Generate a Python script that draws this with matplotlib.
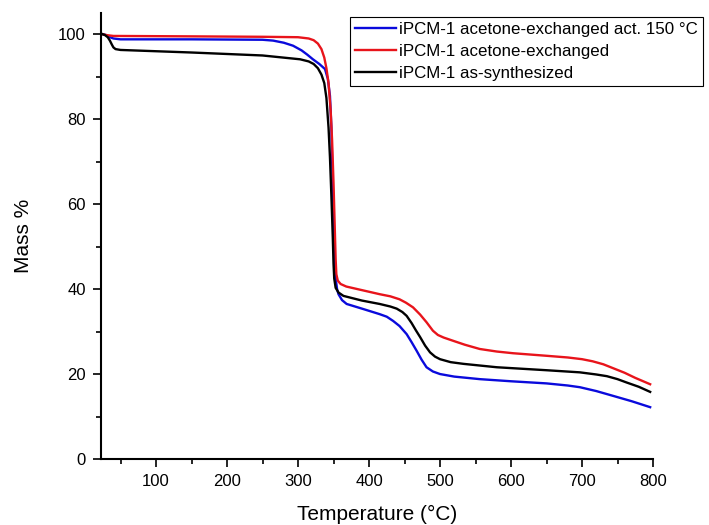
import matplotlib
matplotlib.use('Agg')
import matplotlib.pyplot as plt
from matplotlib.ticker import MultipleLocator

plt.rcParams['font.family'] = ['Liberation Sans', 'DejaVu Sans']

# TGA curves: temperature (degC) and mass %
temp_act150 = [25, 30, 35, 40, 50, 150, 250, 265, 280, 293, 305, 313, 321, 330,
               338, 342, 345, 347, 348, 350, 351.5, 353, 355, 357, 362, 368.5,
               392, 415, 425, 434, 443, 453, 460, 467, 474, 481, 490, 500, 520,
               556, 600, 650, 680, 697, 720, 743, 770, 796]
mass_act150 = [100, 99.8, 99.3, 99.0, 98.8, 98.8, 98.7, 98.5, 98.0, 97.3, 96.2,
               95.2, 94.1, 93.0, 91.8, 89.5, 85.5, 78, 70.6, 58, 48, 42.5, 40.0,
               38.8, 37.4, 36.5, 35.3, 34.1, 33.5, 32.5, 31.3, 29.4, 27.5, 25.5,
               23.4, 21.6, 20.6, 20.0, 19.4, 18.8, 18.3, 17.8, 17.3, 16.9, 16.0,
               14.9, 13.6, 12.2]

temp_acetone = [25, 30, 40, 150, 250, 300, 315, 322, 328, 333, 337, 340, 343,
                346, 348, 350, 352, 353, 354, 356, 360, 368, 415, 430, 443, 452,
                462, 472, 481, 490, 497, 505, 519, 535, 556, 580, 603, 650, 680,
                700, 715, 730, 745, 760, 775, 796]
mass_acetone = [100, 99.8, 99.6, 99.5, 99.4, 99.3, 99.0, 98.6, 97.8, 96.5, 94.5,
                92.0, 88.5, 82, 75, 65, 53, 47, 43.5, 42.0, 41.2, 40.6, 38.8,
                38.3, 37.6, 36.8, 35.7, 34.0, 32.2, 30.2, 29.2, 28.6, 27.8, 26.9,
                25.9, 25.3, 24.9, 24.3, 23.9, 23.5, 23.0, 22.3, 21.3, 20.3, 19.1,
                17.6]

temp_synth = [25, 28, 32, 35, 38, 40, 43, 50, 150, 250, 303, 315, 322, 328,
              333, 337, 340, 343, 345, 347, 349, 350, 351, 353, 357, 364, 390,
              415, 430, 439, 447, 453, 460, 466, 472, 479, 486, 493, 500, 515,
              533, 580, 650, 697, 720, 735, 750, 763, 780, 796]
mass_synth = [100, 99.8, 99.3, 98.5, 97.5, 96.9, 96.5, 96.3, 95.7, 95.0, 94.1,
              93.6, 93.0, 92.0, 90.5, 88.5, 85, 78, 71, 62, 52, 46, 42.5, 40.3,
              39.2, 38.4, 37.3, 36.5, 35.9, 35.4, 34.6, 33.7, 32.0, 30.3, 28.7,
              26.7, 25.1, 24.1, 23.5, 22.8, 22.4, 21.6, 20.9, 20.4, 19.9, 19.5,
              18.8, 18.0, 17.0, 15.8]

labels = ['iPCM-1 acetone-exchanged act. 150 \u00b0C',
          'iPCM-1 acetone-exchanged',
          'iPCM-1 as-synthesized']

fig = plt.figure(figsize=(7.09, 5.25), dpi=100)
ax = fig.add_axes([101 / 709, 1 - 459 / 525, 552 / 709, 446 / 525])

ax.plot(temp_act150, mass_act150, color='#0a0adc', lw=1.7, label=labels[0])
ax.plot(temp_acetone, mass_acetone, color='#e8141b', lw=1.7, label=labels[1])
ax.plot(temp_synth, mass_synth, color='black', lw=1.7, label=labels[2])

ax.set_xlim(22.5, 800)
ax.set_ylim(0, 105)
ax.xaxis.set_major_locator(MultipleLocator(100))
ax.xaxis.set_minor_locator(MultipleLocator(50))
ax.yaxis.set_major_locator(MultipleLocator(20))
ax.yaxis.set_minor_locator(MultipleLocator(10))
ax.tick_params(which='major', direction='out', length=6, width=1.2,
               labelsize=12, pad=5)
ax.tick_params(which='minor', direction='out', length=3.5, width=1.2)

for side in ['top', 'right']:
    ax.spines[side].set_visible(False)
for side in ['left', 'bottom']:
    ax.spines[side].set_linewidth(1.5)

ax.set_xlabel('Temperature (\u00b0C)', fontsize=15, labelpad=11)
ax.set_ylabel('Mass %', fontsize=15, labelpad=18)

leg = ax.legend(loc='upper left', bbox_to_anchor=(350 / 709, 1 - 17 / 525),
                bbox_transform=fig.transFigure, fontsize=12.2, frameon=True,
                fancybox=False, framealpha=1, edgecolor='black',
                handlelength=2.4, handletextpad=0.2, labelspacing=0.4,
                borderpad=0.3, borderaxespad=0)
leg.get_frame().set_linewidth(0.8)

fig.savefig('out.png', dpi=100)
